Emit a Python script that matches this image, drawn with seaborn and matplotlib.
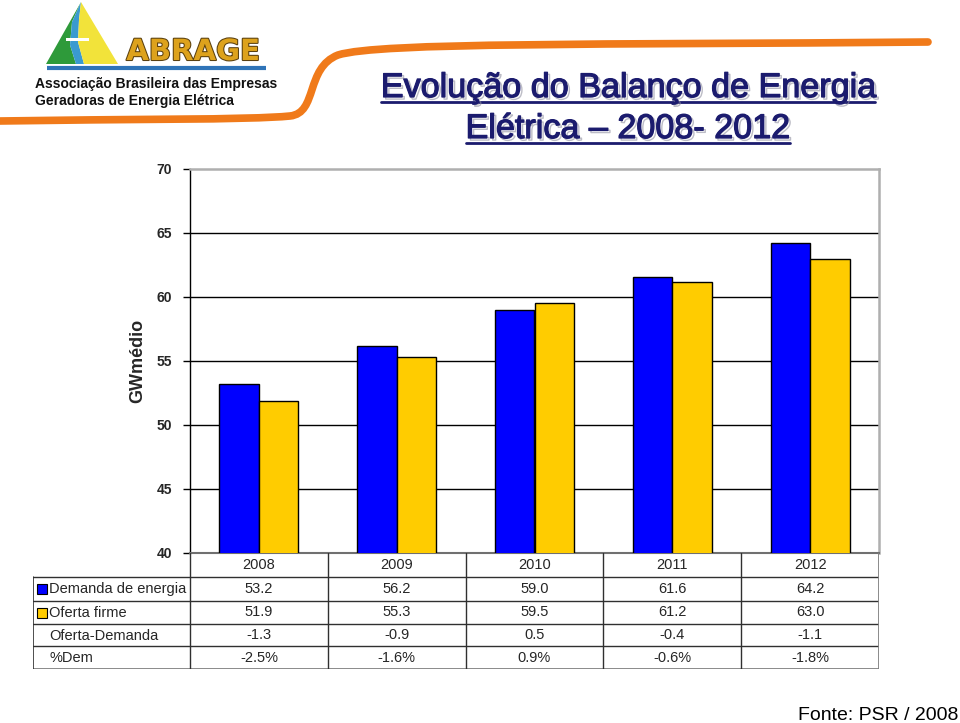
import pandas as pd
import matplotlib
matplotlib.use('Agg')
import matplotlib.pyplot as plt
import matplotlib.patheffects as pe
import seaborn as sns
from matplotlib.path import Path
from matplotlib.patches import PathPatch, Polygon, Rectangle

# dados do gráfico
anos = ['2008', '2009', '2010', '2011', '2012']
demanda = [53.2, 56.2, 59.0, 61.6, 64.2]
oferta = [51.9, 55.3, 59.5, 61.2, 63.0]
oferta_menos_demanda = ['-1.3', '-0.9', '0.5', '-0.4', '-1.1']
pct_dem = ['-2.5%', '-1.6%', '0.9%', '-0.6%', '-1.8%']
series = ['Demanda de energia', 'Oferta firme']
linhas_tabela = ['Demanda de energia', 'Oferta firme', 'Oferta-Demanda', '%Dem']
y_ticks = [40, 45, 50, 55, 60, 65, 70]

AZUL = '#0000FF'
AMARELO = '#FFCC00'
NAVY = '#1B1B6E'
LARANJA = '#F07A1A'

sns.set_theme(style='white')
plt.rcParams['font.family'] = ['Liberation Sans', 'DejaVu Sans']

W, H = 960, 723
fig = plt.figure(figsize=(9.6, 7.23), dpi=100)

# camada de decoração em coordenadas de pixel
deco = fig.add_axes([0, 0, 1, 1])
deco.set_xlim(0, W)
deco.set_ylim(H, 0)
deco.axis('off')

# faixa laranja
verts = [(0, 121), (120, 119), (250, 120), (290, 116),
         (318, 113), (305, 68), (338, 55),
         (380, 42), (600, 45), (928, 42)]
codes = [Path.MOVETO] + [Path.CURVE4] * 9
deco.add_patch(PathPatch(Path(verts, codes), facecolor='none', edgecolor=LARANJA,
                         lw=5.5, capstyle='round'))

# logo ABRAGE
deco.add_patch(Polygon([(81, 2), (46, 64), (76, 64), (70, 45), (72, 22)], closed=True,
                       facecolor='#2E9A3A', edgecolor='none'))
deco.add_patch(Polygon([(81, 2), (72, 22), (70, 45), (76, 64), (84, 64), (78, 42), (79, 20)],
                       closed=True, facecolor='#3A9AD0', edgecolor='none'))
deco.add_patch(Polygon([(81, 2), (79, 20), (78, 42), (84, 64), (118, 64)], closed=True,
                       facecolor='#F2E33A', edgecolor='none'))
deco.add_patch(Rectangle((66, 38), 23, 3, facecolor='white', edgecolor='none'))
deco.text(193, 52, 'ABRAGE', ha='center', va='center', fontsize=21, fontweight='bold',
          family=['DejaVu Sans'], color='#DDA21C',
          path_effects=[pe.withStroke(linewidth=1.5, foreground='#5A4010')])
deco.plot([47, 266], [68, 68], color='#2F74B8', lw=3, solid_capstyle='butt')
deco.text(35, 84, 'Associação Brasileira das Empresas', ha='left', va='center',
          fontsize=10, fontweight='bold', color='#111111')
deco.text(35, 101, 'Geradoras de Energia Elétrica', ha='left', va='center',
          fontsize=10, fontweight='bold', color='#111111')

# título
efeito_titulo = [pe.SimpleLineShadow(offset=(1.5, -1.5), shadow_color='#9090A0', alpha=0.6,
                                     linewidth=1),
                 pe.withStroke(linewidth=0.9, foreground=NAVY)]
t1 = deco.text(628, 97, 'Evolução do Balanço de Energia', ha='center', va='baseline',
               fontsize=23, color=NAVY, path_effects=efeito_titulo)
t2 = deco.text(628, 138, 'Elétrica – 2008- 2012', ha='center', va='baseline',
               fontsize=23, color=NAVY, path_effects=efeito_titulo)

deco.text(958, 715, 'Fonte: PSR / 2008', ha='right', va='center', fontsize=14, color='black')

# gráfico de barras
ax = fig.add_axes([190 / W, 1 - 553 / H, 689 / W, 384 / H])
df = pd.DataFrame({
    'ano': anos * 2,
    'valor': demanda + oferta,
    'serie': [series[0]] * len(anos) + [series[1]] * len(anos),
})
sns.barplot(data=df, x='ano', y='valor', hue='serie', palette=[AZUL, AMARELO],
            saturation=1, width=0.574, edgecolor='black', linewidth=1,
            legend=False, ax=ax, zorder=3)
ax.set_ylim(40, 70)
ax.set_yticks(y_ticks)
ax.set_yticklabels([str(v) for v in y_ticks], fontsize=10, fontweight='bold')
for v in y_ticks[1:-1]:
    ax.axhline(v, color='black', lw=1, zorder=1)
ax.tick_params(axis='y', left=True, length=5, width=1, color='black', pad=8)
ax.tick_params(axis='x', bottom=False, labelbottom=False)
ax.set_xlabel('')
ax.set_ylabel('GWmédio', fontsize=13, fontweight='bold', labelpad=7)
ax.spines['left'].set_color('black')
ax.spines['left'].set_linewidth(1)
for s in ['top', 'right']:
    ax.spines[s].set_color('#AFAFAF')
    ax.spines[s].set_linewidth(1.8)
ax.spines['bottom'].set_color('#707070')
ax.spines['bottom'].set_linewidth(1.5)

# tabela de dados
tab = fig.add_axes([33 / W, 1 - 669 / H, 846 / W, 116 / H])
tab.set_xlim(0, 846)
tab.set_ylim(116, 0)
tab.axis('off')
col0 = 157
colw = 689 / len(anos)
rows = [0, 24, 48, 71, 93, 116]
for y in rows[1:-1]:
    tab.plot([0, 846], [y, y], color='#303030', lw=1)
tab.plot([0, 846], [116, 116], color='#808080', lw=2)
tab.plot([0, 0], [24, 116], color='#303030', lw=1.2)
for i in range(len(anos)):
    x = col0 + i * colw
    tab.plot([x, x], [0, 116], color='#303030', lw=1)
tab.plot([846, 846], [0, 116], color='#808080', lw=2)

valores = [[f'{v:.1f}' for v in demanda], [f'{v:.1f}' for v in oferta],
           oferta_menos_demanda, pct_dem]
for i, ano in enumerate(anos):
    cx = col0 + (i + 0.5) * colw
    tab.text(cx, (rows[0] + rows[1]) / 2, ano, ha='center', va='center', fontsize=10.5)
    for r, linha in enumerate(valores):
        tab.text(cx, (rows[r + 1] + rows[r + 2]) / 2, linha[i], ha='center', va='center',
                 fontsize=10.5)
for r, nome in enumerate(linhas_tabela):
    cy = (rows[r + 1] + rows[r + 2]) / 2
    tab.text(16, cy + 0.5, nome, ha='left', va='center', fontsize=10.5)
for r, cor in enumerate([AZUL, AMARELO]):
    cy = (rows[r + 1] + rows[r + 2]) / 2
    tab.add_patch(Rectangle((4, cy - 5), 10, 10, facecolor=cor, edgecolor='black', lw=0.8))

# ajusta o título à largura do original e sublinha
fig.canvas.draw()
r = fig.canvas.get_renderer()
larg1 = t1.get_window_extent(renderer=r).width
fs = 23 * 497 / larg1
t1.set_fontsize(fs)
t2.set_fontsize(fs)
fig.canvas.draw()
r = fig.canvas.get_renderer()
for t, yb in ((t1, 102), (t2, 143)):
    bb = t.get_window_extent(renderer=r)
    deco.plot([bb.x0, bb.x1], [yb, yb], color=NAVY, lw=2)

fig.savefig('out.png', dpi=100)
